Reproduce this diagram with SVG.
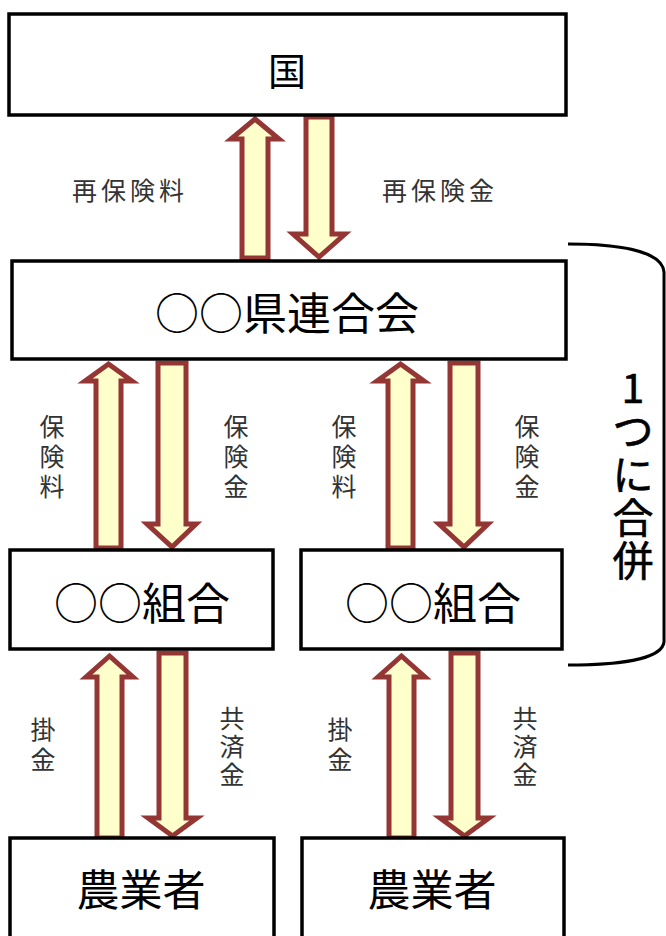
<svg xmlns="http://www.w3.org/2000/svg" width="666" height="936" viewBox="0 0 666 936">
<style>
.box{fill:#fff;stroke:#000;stroke-width:3.5}
.arr{fill:#FFFFCC;stroke:#943634;stroke-width:5;stroke-linejoin:miter}
.big{font-family:"Noto Sans CJK JP","Noto Sans",sans-serif;font-size:42px;fill:#000;text-anchor:middle}
.lbl{font-family:"Noto Sans CJK JP","Noto Sans",sans-serif;font-size:25px;letter-spacing:4px;fill:#333;text-anchor:middle}
.vl{font-family:"Noto Sans CJK JP","Noto Sans",sans-serif;font-size:25px;fill:#333;text-anchor:middle}
.mg{font-family:"Noto Sans CJK JP","Noto Sans",sans-serif;font-size:41px;fill:#000;stroke:#000;stroke-width:0.6;text-anchor:middle}
</style>
<rect width="666" height="936" fill="#fff"/>
<g id="connectors">
  <polygon class="arr" points="255,119 279,139 268,139 268,258 242,258 242,139 231,139"/>
  <polygon class="arr" points="306,117 332,117 332,234 345,234 319,257 293,234 306,234"/>
  <polygon class="arr" points="108.5,364 132,381 121,381 121,548 96,548 96,381 85,381"/>
  <polygon class="arr" points="158,363 186,363 186,524 196,524 172,547 147,524 158,524"/>
  <polygon class="arr" points="400.5,364 424,381 413,381 413,548 388,548 388,381 377,381"/>
  <polygon class="arr" points="450,363 478,363 478,524 488,524 464,547 439,524 450,524"/>
  <polygon class="arr" points="109.5,656 133,677 122,677 122,838 97,838 97,677 86,677"/>
  <polygon class="arr" points="159,653 186,653 186,818 197,818 172.5,836 148,818 159,818"/>
  <polygon class="arr" points="401.5,656 425,677 414,677 414,838 389,838 389,677 378,677"/>
  <polygon class="arr" points="451,653 478,653 478,818 489,818 464.5,836 440,818 451,818"/>
  <text class="lbl" x="130" y="200">再保険料</text>
  <text class="lbl" x="440" y="200">再保険金</text>
  <g class="vl">
    <text x="52" y="436">保</text><text x="52" y="466">険</text><text x="52" y="496">料</text>
    <text x="236" y="436">保</text><text x="236" y="466">険</text><text x="236" y="496">金</text>
    <text x="344" y="436">保</text><text x="344" y="466">険</text><text x="344" y="496">料</text>
    <text x="527" y="436">保</text><text x="527" y="466">険</text><text x="527" y="496">金</text>
    <text x="43" y="739">掛</text><text x="43" y="769">金</text>
    <text x="232" y="728">共</text><text x="232" y="756">済</text><text x="232" y="784">金</text>
    <text x="340" y="739">掛</text><text x="340" y="769">金</text>
    <text x="525" y="728">共</text><text x="525" y="756">済</text><text x="525" y="784">金</text>
  </g>
</g>
<g id="n-kuni"><rect class="box" x="9" y="14" width="557" height="101"/><text class="big" x="287" y="85" style="font-size:38px">国</text></g>
<g id="n-kenren"><rect class="box" x="12" y="261" width="554" height="98"/><text class="big" x="287" y="330" style="font-size:44px">○○県連合会</text></g>
<g id="n-kumiai1"><rect class="box" x="10" y="550" width="263" height="99"/><text class="big" x="142" y="620" style="font-size:44px">○○組合</text></g>
<g id="n-kumiai2"><rect class="box" x="301" y="550" width="261" height="99"/><text class="big" x="433" y="620" style="font-size:44px">○○組合</text></g>
<g id="n-nogyo1"><rect class="box" x="10" y="838" width="264" height="110"/><text class="big" x="141" y="906" style="font-size:43px">農業者</text></g>
<g id="n-nogyo2"><rect class="box" x="302" y="838" width="262" height="110"/><text class="big" x="432" y="906" style="font-size:43px">農業者</text></g>
<g id="merge">
  <path d="M568,244 C615,244 662,250 664,272 L664,642 C662,660 615,665 568,665" fill="none" stroke="#000" stroke-width="3"/>
  <text class="mg" x="633" y="403">1</text>
  <text class="mg" x="633" y="446">つ</text>
  <text class="mg" x="633" y="490">に</text>
  <text class="mg" x="633" y="533">合</text>
  <text class="mg" x="633" y="576">併</text>
</g>
</svg>
